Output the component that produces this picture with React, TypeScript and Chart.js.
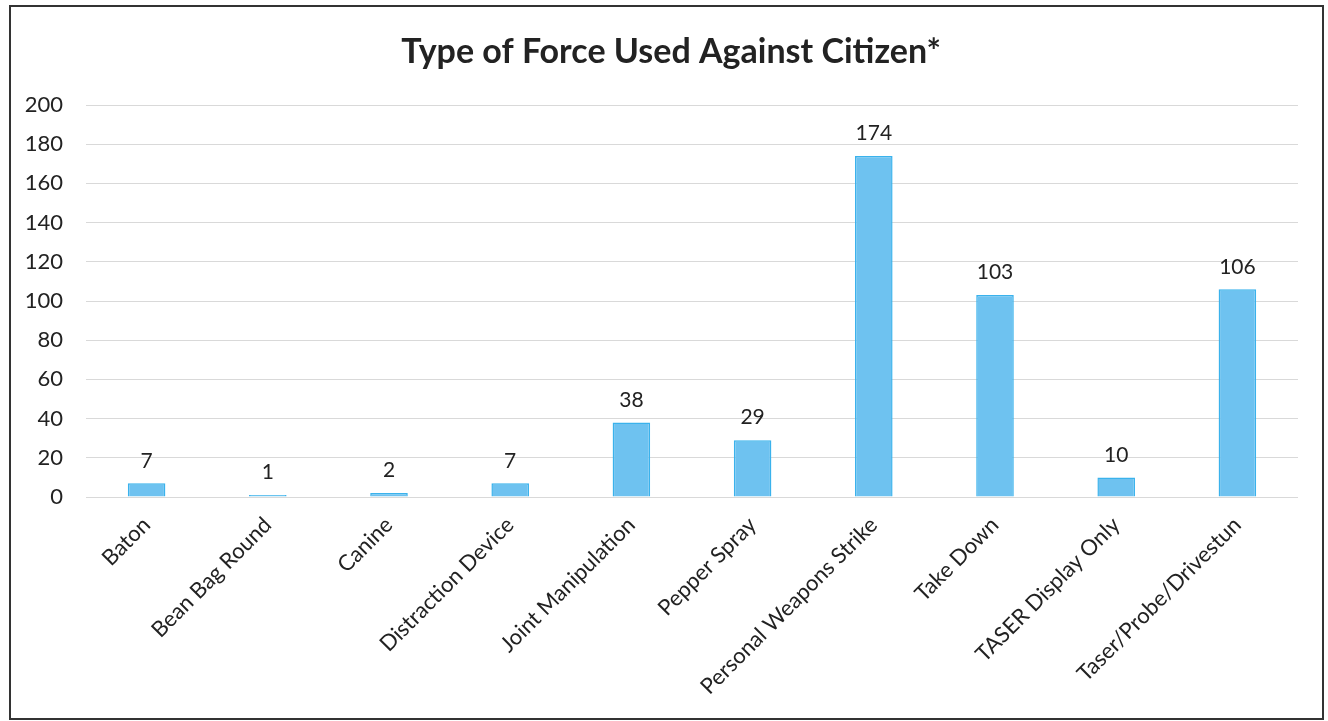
import React, { useEffect, useRef } from "react";
import { Chart, registerables } from "chart.js";

Chart.register(...registerables);

const categories = [
  "Baton",
  "Bean Bag Round",
  "Canine",
  "Distraction Device",
  "Joint Manipulation",
  "Pepper Spray",
  "Personal Weapons Strike",
  "Take Down",
  "TASER Display Only",
  "Taser/Probe/Drivestun",
];
const counts = [7, 1, 2, 7, 38, 29, 174, 103, 10, 106];
const titleText = "Type of Force Used Against Citizen*";
const yMin = 0;
const yMax = 200;
const yStep = 20;

const FONT = "Lato, 'Open Sans', sans-serif";

const valueLabels = {
  id: "valueLabels",
  afterDatasetsDraw(chart: any) {
    const ctx = chart.ctx;
    const meta = chart.getDatasetMeta(0);
    const data = chart.data.datasets[0].data as number[];
    ctx.save();
    ctx.font = `21px ${FONT}`;
    ctx.fillStyle = "#222";
    ctx.textAlign = "center";
    ctx.textBaseline = "bottom";
    meta.data.forEach((el: any, i: number) => {
      ctx.fillText(String(data[i]), el.x, el.y - 12);
    });
    ctx.restore();
  },
};

const chartTitle = {
  id: "chartTitle",
  afterDraw(chart: any) {
    const ctx = chart.ctx;
    ctx.save();
    ctx.font = `bold 34px ${FONT}`;
    ctx.fillStyle = "#222";
    ctx.textAlign = "center";
    ctx.textBaseline = "middle";
    ctx.fillText(titleText, 671, 52);
    ctx.restore();
  },
};

export default function App() {
  const ref = useRef<HTMLCanvasElement | null>(null);
  useEffect(() => {
    if (!ref.current) return;
    const chart = new Chart(ref.current, {
      type: "bar",
      data: {
        labels: categories,
        datasets: [
          {
            data: counts,
            backgroundColor: "#6EC2F0",
            borderColor: "#3AB2EC",
            borderWidth: 1.5,
            barPercentage: 0.62,
            categoryPercentage: 0.5,
          },
        ],
      },
      options: {
        animation: false,
        responsive: false,
        layout: { padding: { top: 105, left: 20, right: 30, bottom: 0 } },
        plugins: {
          legend: { display: false },
          tooltip: { enabled: false },
          title: { display: false },
        },
        scales: {
          x: {
            grid: { display: false, drawTicks: false },
            border: { display: false },
            ticks: {
              color: "#222",
              font: { family: FONT, size: 22 },
              minRotation: 45,
              maxRotation: 45,
              padding: 15,
              autoSkip: false,
            },
            afterFit(scale: any) {
              scale.height = 224;
            },
          },
          y: {
            min: yMin,
            max: yMax,
            grid: { color: "#d9d9d9", lineWidth: 1, drawTicks: false },
            border: { display: false },
            ticks: {
              stepSize: yStep,
              color: "#222",
              font: { family: FONT, size: 22 },
              padding: 23,
            },
            afterFit(scale: any) {
              scale.width = 66;
            },
          },
        },
      },
      plugins: [valueLabels, chartTitle],
    });
    return () => chart.destroy();
  }, []);

  return (
    <div
      style={{
        position: "fixed",
        left: 0,
        top: 0,
        width: 1328,
        height: 721,
        background: "#fff",
      }}
    >
      <canvas
        ref={ref}
        width={1328}
        height={721}
        style={{ position: "absolute", left: 0, top: 0, width: 1328, height: 721 }}
      />
      <div
        style={{
          position: "absolute",
          left: 9,
          top: 5,
          width: 1311,
          height: 711,
          border: "2px solid #333",
          pointerEvents: "none",
        }}
      />
    </div>
  );
}
